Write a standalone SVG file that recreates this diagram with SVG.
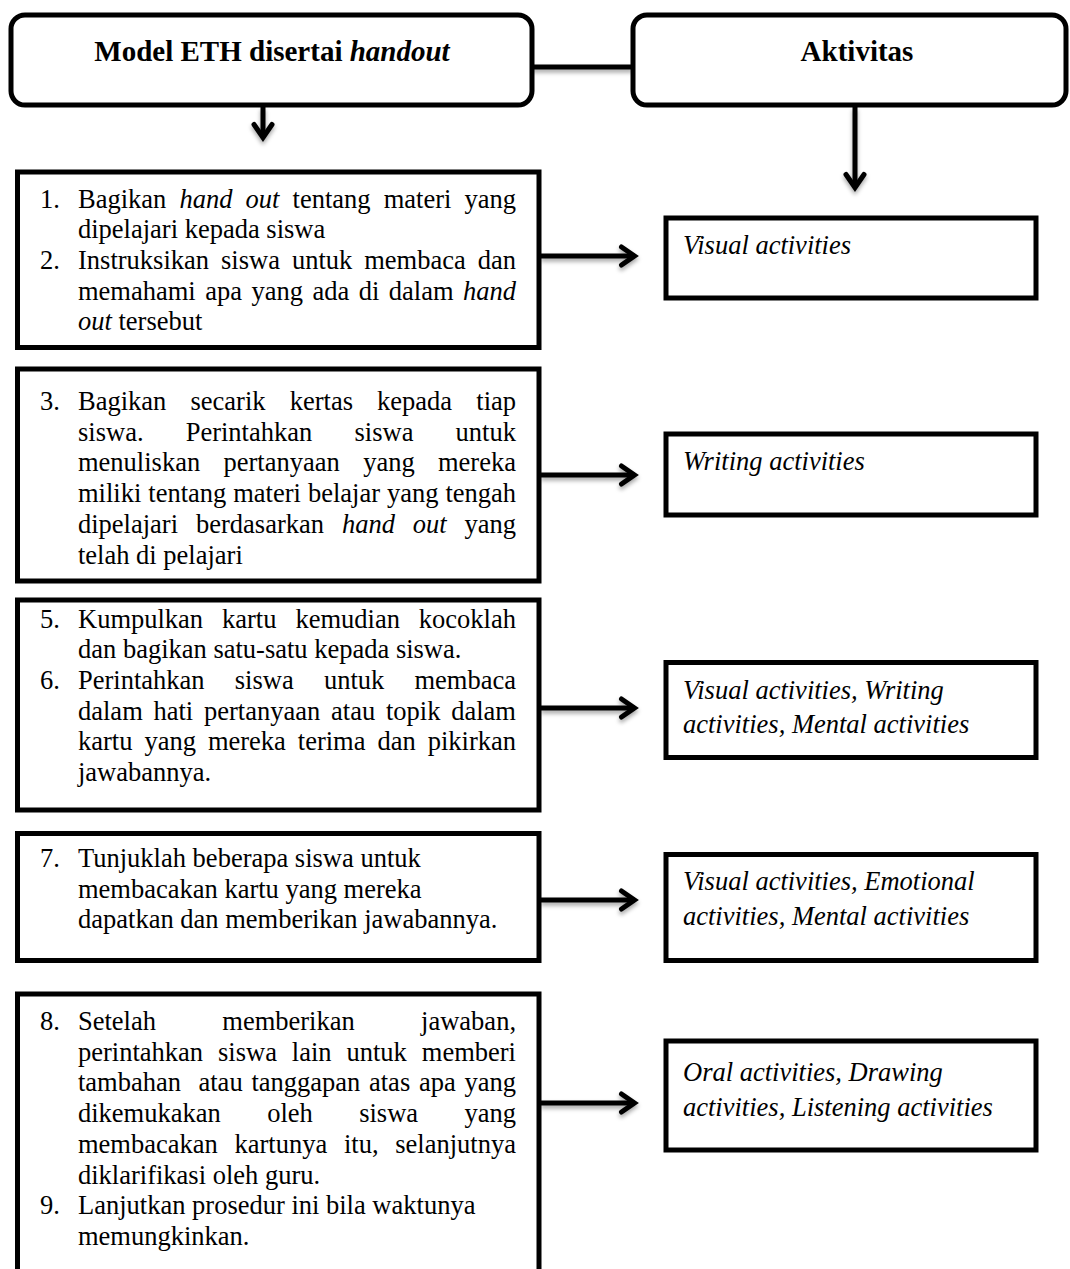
<svg xmlns="http://www.w3.org/2000/svg" width="1070" height="1269" viewBox="0 0 1070 1269">
<style>
.box{fill:#fff;stroke:#000;stroke-width:5}
.t{font-family:"Liberation Serif","Times New Roman",serif;font-size:26.5px;fill:#000}
.i{font-style:italic}
.ttl{font-family:"Liberation Serif","Times New Roman",serif;font-size:29px;font-weight:bold;fill:#000}
.ln{stroke:#000;stroke-width:5;fill:none;stroke-linecap:butt}
</style>
<defs>
<filter id="sh" filterUnits="userSpaceOnUse" x="0" y="0" width="1070" height="1269">
<feDropShadow dx="0" dy="3" stdDeviation="2" flood-color="#000" flood-opacity="0.35"/>
</filter>
<marker id="chev" markerUnits="userSpaceOnUse" viewBox="-18 -14 22 28" refX="0" refY="0" markerWidth="22" markerHeight="28" orient="auto" overflow="visible">
<path d="M-13,-9 L0,0 L-13,9" fill="none" stroke="#000" stroke-width="5" stroke-linecap="round" stroke-linejoin="miter"/>
</marker>
</defs>
<rect width="1070" height="1269" fill="#fff"/>

<g id="connectors" filter="url(#sh)">
<line class="ln" x1="532" y1="67" x2="633" y2="67"/>
<line class="ln" x1="263" y1="107" x2="263" y2="137.5" marker-end="url(#chev)"/>
<line class="ln" x1="855" y1="107" x2="855" y2="187.5" marker-end="url(#chev)"/>
<line class="ln" x1="541" y1="256" x2="634.5" y2="256" marker-end="url(#chev)"/>
<line class="ln" x1="541" y1="475" x2="634.5" y2="475" marker-end="url(#chev)"/>
<line class="ln" x1="541" y1="708" x2="634.5" y2="708" marker-end="url(#chev)"/>
<line class="ln" x1="541" y1="900" x2="634.5" y2="900" marker-end="url(#chev)"/>
<line class="ln" x1="541" y1="1103" x2="634.5" y2="1103" marker-end="url(#chev)"/>
</g>

<g id="head-model">
<rect class="box" x="11" y="15" width="521" height="90" rx="14"/>
<text class="ttl" x="272" y="61" text-anchor="middle">Model ETH disertai <tspan font-style="italic">handout</tspan></text>
</g>
<g id="head-aktivitas">
<rect class="box" x="633" y="15" width="433" height="90" rx="14"/>
<text class="ttl" x="857" y="61" text-anchor="middle">Aktivitas</text>
</g>

<g id="step-1-2">
<rect class="box" x="17.5" y="172" width="521.5" height="175.5"/>
<text class="t" y="207.5"><tspan x="40">1.</tspan><tspan x="78">Bagikan</tspan><tspan class="i" x="179.4">hand</tspan><tspan class="i" x="245.6">out</tspan><tspan x="292.6">tentang</tspan><tspan x="383.7">materi</tspan><tspan x="464.5">yang</tspan></text>
<text class="t" x="78" y="238.2">dipelajari kepada siswa</text>
<text class="t" y="268.9"><tspan x="40">2.</tspan><tspan x="78">Instruksikan</tspan><tspan x="221">siswa</tspan><tspan x="291.9">untuk</tspan><tspan x="364.2">membaca</tspan><tspan x="477.7">dan</tspan></text>
<text class="t" y="299.6"><tspan x="78">memahami</tspan><tspan x="205.2">apa</tspan><tspan x="251.5">yang</tspan><tspan x="312.5">ada</tspan><tspan x="358.7">di</tspan><tspan x="388.8">dalam</tspan><tspan class="i" x="463">hand</tspan></text>
<text class="t" x="78" y="330.3"><tspan class="i">out</tspan> tersebut</text>
</g>

<g id="step-3">
<rect class="box" x="17.5" y="369" width="521.5" height="212"/>
<text class="t" y="410"><tspan x="40">3.</tspan><tspan x="78">Bagikan</tspan><tspan x="190.5">secarik</tspan><tspan x="289.7">kertas</tspan><tspan x="377.1">kepada</tspan><tspan x="476.3">tiap</tspan></text>
<text class="t" y="440.7"><tspan x="78">siswa.</tspan><tspan x="185.7">Perintahkan</tspan><tspan x="354.5">siswa</tspan><tspan x="455.6">untuk</tspan></text>
<text class="t" y="471.4"><tspan x="78">menuliskan</tspan><tspan x="223.5">pertanyaan</tspan><tspan x="363.2">yang</tspan><tspan x="438">mereka</tspan></text>
<text class="t" y="502.1"><tspan x="78">miliki</tspan><tspan x="148.3">tentang</tspan><tspan x="233.2">materi</tspan><tspan x="307.9">belajar</tspan><tspan x="386.9">yang</tspan><tspan x="445.4">tengah</tspan></text>
<text class="t" y="532.8"><tspan x="78">dipelajari</tspan><tspan x="196">berdasarkan</tspan><tspan class="i" x="341.9">hand</tspan><tspan class="i" x="412.7">out</tspan><tspan x="464.5">yang</tspan></text>
<text class="t" x="78" y="563.5">telah di pelajari</text>
</g>

<g id="step-5-6">
<rect class="box" x="17.5" y="600" width="521.5" height="210"/>
<text class="t" y="627.5"><tspan x="40">5.</tspan><tspan x="78">Kumpulkan</tspan><tspan x="222">kartu</tspan><tspan x="295.4">kemudian</tspan><tspan x="418.8">kocoklah</tspan></text>
<text class="t" x="78" y="658.2">dan bagikan satu-satu kepada siswa.</text>
<text class="t" y="688.9"><tspan x="40">6.</tspan><tspan x="78">Perintahkan</tspan><tspan x="234.8">siswa</tspan><tspan x="323.9">untuk</tspan><tspan x="414.4">membaca</tspan></text>
<text class="t" y="719.6"><tspan x="78">dalam</tspan><tspan x="153.5">hati</tspan><tspan x="204">pertanyaan</tspan><tspan x="331.1">atau</tspan><tspan x="386">topik</tspan><tspan x="451.2">dalam</tspan></text>
<text class="t" y="750.3"><tspan x="78">kartu</tspan><tspan x="144.4">yang</tspan><tspan x="207.9">mereka</tspan><tspan x="297.8">terima</tspan><tspan x="377.5">dan</tspan><tspan x="427.7">pikirkan</tspan></text>
<text class="t" x="78" y="781">jawabannya.</text>
</g>

<g id="step-7">
<rect class="box" x="17.5" y="833.5" width="521.5" height="127"/>
<text class="t" y="867"><tspan x="40">7.</tspan><tspan x="78">Tunjuklah beberapa siswa untuk</tspan></text>
<text class="t" x="78" y="897.7">membacakan kartu yang mereka</text>
<text class="t" x="78" y="928.4">dapatkan dan memberikan jawabannya.</text>
</g>

<g id="step-8-9">
<rect class="box" x="17.5" y="994" width="521.5" height="290"/>
<text class="t" y="1030"><tspan x="40">8.</tspan><tspan x="78">Setelah</tspan><tspan x="222.3">memberikan</tspan><tspan x="421.1">jawaban,</tspan></text>
<text class="t" y="1060.7"><tspan x="78">perintahkan</tspan><tspan x="218">siswa</tspan><tspan x="291.8">lain</tspan><tspan x="346.5">untuk</tspan><tspan x="421.8">memberi</tspan></text>
<text class="t" y="1091.4"><tspan x="78">tambahan</tspan><tspan x="198.5">atau</tspan><tspan x="251.4">tanggapan</tspan><tspan x="369">atas</tspan><tspan x="419">apa</tspan><tspan x="464.5">yang</tspan></text>
<text class="t" y="1122.1"><tspan x="78">dikemukakan</tspan><tspan x="267.2">oleh</tspan><tspan x="359.2">siswa</tspan><tspan x="464.5">yang</tspan></text>
<text class="t" y="1152.8"><tspan x="78">membacakan</tspan><tspan x="234.5">kartunya</tspan><tspan x="344">itu,</tspan><tspan x="395.3">selanjutnya</tspan></text>
<text class="t" x="78" y="1183.5">diklarifikasi oleh guru.</text>
<text class="t" y="1214.2"><tspan x="40">9.</tspan><tspan x="78">Lanjutkan prosedur ini bila waktunya</tspan></text>
<text class="t" x="78" y="1244.9">memungkinkan.</text>
</g>

<g id="act-1">
<rect class="box" x="666" y="218" width="370" height="80"/>
<text class="t i" x="683" y="254">Visual activities</text>
</g>
<g id="act-2">
<rect class="box" x="666" y="434" width="370" height="81"/>
<text class="t i" x="683" y="470">Writing activities</text>
</g>
<g id="act-3">
<rect class="box" x="666" y="662.5" width="370" height="95"/>
<text class="t i" x="683" y="699">Visual activities, Writing</text>
<text class="t i" x="683" y="733">activities, Mental activities</text>
</g>
<g id="act-4">
<rect class="box" x="666" y="854.5" width="370" height="106"/>
<text class="t i" x="683" y="890">Visual activities, Emotional</text>
<text class="t i" x="683" y="925">activities, Mental activities</text>
</g>
<g id="act-5">
<rect class="box" x="666" y="1041" width="370" height="109"/>
<text class="t i" x="683" y="1081">Oral activities, Drawing</text>
<text class="t i" x="683" y="1116">activities, Listening activities</text>
</g>
</svg>
